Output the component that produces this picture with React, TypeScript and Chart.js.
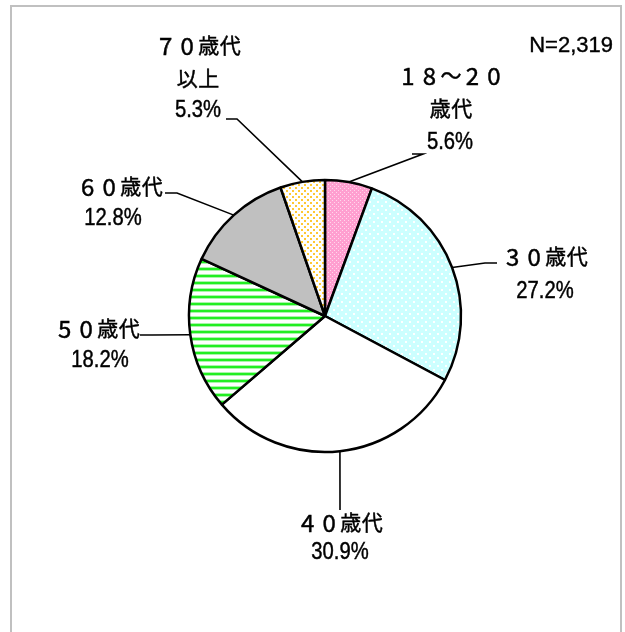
import React, { useEffect, useRef } from "react";
import { Chart, registerables } from "chart.js";

Chart.register(...registerables);

// ---- data ----
const categories = ["18～20歳代", "30歳代", "40歳代", "50歳代", "60歳代", "70歳代以上"];
const labelLines = [["１８～２０", "歳代"], ["３０歳代"], ["４０歳代"], ["５０歳代"], ["６０歳代"], ["７０歳代", "以上"]];
const shares = [5.6, 27.2, 30.9, 18.2, 12.8, 5.3];
const sampleNote = "N=2,319";

// ---- layout of labels (text centres, leader elbow and end) ----
const labelLayout = [
  { x: 451, lineY: [75, 108], pctX: 450, pctY: 143, elbow: [423, 154], end: [412, 154] },
  { x: 545, lineY: [256], pctX: 545, pctY: 292, elbow: [485, 263], end: [497, 263] },
  { x: 340, lineY: [522], pctX: 340, pctY: 553, elbow: [340, 500], end: [340, 510] },
  { x: 97, lineY: [328], pctX: 100, pctY: 361, elbow: [152, 335], end: [140, 335] },
  { x: 120, lineY: [186], pctX: 113, pctY: 219, elbow: [177, 193], end: [165, 193] },
  { x: 198, lineY: [45, 78], pctX: 198, pctY: 111, elbow: [237, 119], end: [226, 119] },
];

function makePattern(w: number, h: number, draw: (g: CanvasRenderingContext2D) => void) {
  const c = document.createElement("canvas");
  c.width = w;
  c.height = h;
  const g = c.getContext("2d")!;
  draw(g);
  return g.createPattern(c, "repeat")!;
}

function buildFills() {
  const pink = makePattern(4, 4, (g) => {
    g.fillStyle = "#ff9fd0";
    g.fillRect(0, 0, 4, 4);
    g.fillStyle = "#ffd8ec";
    g.fillRect(0, 0, 1, 1);
    g.fillRect(2, 2, 1, 1);
  });
  const cyan = makePattern(8, 8, (g) => {
    g.fillStyle = "#ccffff";
    g.fillRect(0, 0, 8, 8);
    g.fillStyle = "#ffffff";
    g.fillRect(1, 1, 2, 2);
    g.fillRect(5, 5, 2, 2);
  });
  const white = "#ffffff";
  const green = makePattern(7, 7, (g) => {
    g.fillStyle = "#ffffff";
    g.fillRect(0, 0, 7, 7);
    g.fillStyle = "#22ee22";
    g.fillRect(0, 2, 7, 2);
    g.fillStyle = "#aaf5aa";
    g.fillRect(0, 1, 7, 1);
    g.fillRect(0, 4, 7, 1);
  });
  const gray = "#c0c0c0";
  const orange = makePattern(6, 6, (g) => {
    g.fillStyle = "#ffffff";
    g.fillRect(0, 0, 6, 6);
    g.fillStyle = "#ffc833";
    g.fillRect(1, 1, 2, 2);
    g.fillRect(4, 4, 2, 2);
  });
  return [pink, cyan, white, green, gray, orange];
}

function inkText(ctx: CanvasRenderingContext2D, text: string, x: number, y: number) {
  ctx.fillText(text, x, y);
  ctx.strokeText(text, x, y);
}

function narrowText(ctx: CanvasRenderingContext2D, text: string, x: number, y: number, sx: number) {
  ctx.save();
  ctx.translate(x, y);
  ctx.scale(sx, 1);
  inkText(ctx, text, 0, 0);
  ctx.restore();
}

// Gothic-style monospaced label: every character in a fixed-width cell
function cellText(ctx: CanvasRenderingContext2D, text: string, cx: number, cy: number, cell: number) {
  const chars = Array.from(text);
  const total = chars.length * cell;
  let x = cx - total / 2 + cell / 2;
  ctx.textAlign = "center";
  ctx.textBaseline = "middle";
  for (const ch of chars) {
    const code = ch.charCodeAt(0);
    if (code >= 0xff10 && code <= 0xff19) {
      ctx.font = '24px "Noto Sans CJK JP"';
      inkText(ctx, String.fromCharCode(code - 0xff10 + 48), x, cy + 1);
    } else {
      ctx.font = '21px "Noto Sans CJK JP"';
      inkText(ctx, ch, x, cy);
    }
    x += cell;
  }
}

const labelPlugin = {
  id: "pieLabels",
  afterDraw(chart: any) {
    const ctx: CanvasRenderingContext2D = chart.ctx;
    const meta = chart.getDatasetMeta(0);
    ctx.save();
    meta.data.forEach((arc: any, i: number) => {
      const p = arc.getProps(["x", "y", "startAngle", "endAngle", "outerRadius"], true);
      const mid = (p.startAngle + p.endAngle) / 2;
      const ex = p.x + Math.cos(mid) * p.outerRadius;
      const ey = p.y + Math.sin(mid) * p.outerRadius;
      const L = labelLayout[i];
      ctx.strokeStyle = "#000";
      ctx.lineWidth = 1.6;
      ctx.beginPath();
      ctx.moveTo(ex, ey);
      ctx.lineTo(L.elbow[0], L.elbow[1]);
      ctx.lineTo(L.end[0], L.end[1]);
      ctx.stroke();

      ctx.fillStyle = "#000";
      ctx.lineWidth = 0.45;
      labelLines[i].forEach((t, k) => {
        cellText(ctx, t, L.x, L.lineY[k], 21.5);
      });
      ctx.textAlign = "center";
      ctx.textBaseline = "middle";
      ctx.font = '23px "Liberation Sans", Arial, sans-serif';
      narrowText(ctx, shares[i].toFixed(1) + "%", L.pctX, L.pctY, 0.88);
    });
    ctx.lineWidth = 0.4;
    ctx.font = '22px "Liberation Sans", Arial, sans-serif';
    ctx.textAlign = "right";
    ctx.textBaseline = "middle";
    inkText(ctx, sampleNote, 613, 46);
    ctx.restore();
  },
};

export default function App() {
  const ref = useRef<HTMLCanvasElement>(null);
  useEffect(() => {
    if (!ref.current) return;
    const chart = new Chart(ref.current, {
      type: "pie",
      data: {
        labels: categories,
        datasets: [
          {
            data: shares,
            backgroundColor: buildFills() as any,
            borderColor: "#000000",
            borderWidth: 2.5,
          },
        ],
      },
      options: {
        animation: false,
        responsive: false,
        devicePixelRatio: 1,
        events: [],
        radius: 136,
        layout: { padding: { left: 100, right: 75, top: 100, bottom: 100 } },
        plugins: { legend: { display: false }, tooltip: { enabled: false } },
      } as any,
      plugins: [labelPlugin],
    });
    return () => chart.destroy();
  }, []);
  return (
    <div style={{ position: "fixed", left: 0, top: 0, width: 625, height: 632, overflow: "hidden", background: "#fff" }}>
      <div
        style={{
          position: "absolute",
          left: 10,
          top: 5,
          width: 612,
          height: 700,
          border: "2px solid #c0c0c0",
          boxSizing: "border-box",
        }}
      />
      <canvas ref={ref} width={625} height={632} style={{ position: "absolute", left: 0, top: 0 }} />
    </div>
  );
}
